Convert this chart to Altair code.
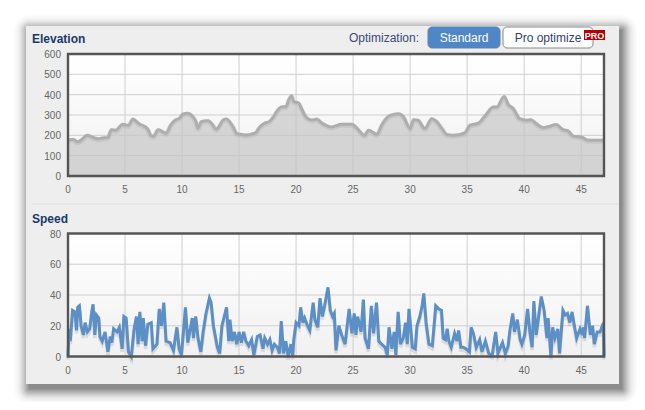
import altair as alt
import pandas as pd

elev_km = [0,0.3,0.5,0.8,1.1,1.7,2.2,2.6,3,3.5,3.8,4.2,4.8,5.1,5.3,5.7,6,6.3,6.7,7,7.3,7.5,7.9,8.3,8.6,9,9.4,9.8,10.1,10.5,10.9,11.2,11.4,11.7,12.3,12.6,13,13.2,13.6,13.9,14.2,14.5,14.8,15.1,15.5,15.9,16.2,16.5,16.8,17.2,17.7,18,18.4,18.8,19.1,19.4,19.6,19.8,20.2,20.5,20.8,21.1,21.5,21.8,22.26,23.1,24,24.9,25.3,26,26.35,27.1,27.5,28.25,29,29.4,30,30.3,30.7,31.3,31.9,32.35,32.8,33.2,33.8,34.8,35.25,36,36.6,37.3,37.6,38.25,38.6,39.05,39.6,40.2,40.6,41.05,41.65,42.25,42.8,43.4,43.85,44.3,45,45.6,47]
elev_val = [175,180,180,168,175,200,190,183,187,190,228,225,255,250,250,280,268,255,245,230,198,195,228,218,210,250,275,285,305,308,295,270,235,268,272,258,230,240,275,280,265,240,208,205,202,203,208,215,240,258,270,290,325,340,340,380,395,365,360,330,295,280,275,280,260,241,254,254,238,200,225,205,250,298,306,293,233,277,274,233,282,266,233,205,200,212,250,260,298,339,339,391,352,331,282,274,277,258,238,245,253,228,222,196,192,176,176]

speed_km = [0,.1,.2,.4,.6,.75,.85,1.0,1.15,1.35,1.5,1.7,1.9,2.1,2.2,2.35,2.5,2.7,2.8,3.0,3.25,3.5,3.7,3.85,4.0,4.3,4.5,4.75,4.9,5.1,5.3,5.55,5.8,6.0,6.15,6.3,6.5,6.6,6.8,7.0,7.3,7.45,7.8,8.0,8.2,8.4,8.6,8.95,9.25,9.55,9.75,9.95,10.3,10.5,10.7,10.9,11.0,11.2,11.4,11.65,11.85,12.1,12.4,12.55,12.75,12.9,13.1,13.3,13.5,13.7,13.9,14.1,14.2,14.4,14.6,14.8,15,15.2,15.4,15.6,15.85,16.1,16.3,16.6,16.85,17.1,17.25,17.5,17.7,17.9,18.1,18.35,18.55,18.7,18.9,19.1,19.3,19.55,19.7,19.8,20,20.25,20.4,20.6,20.75,21,21.2,21.5,21.65,21.9,22.1,22.3,22.5,22.8,23,23.2,23.35,23.5,23.75,24,24.3,24.45,24.65,24.9,25.1,25.25,25.4,25.7,25.9,26.05,26.35,26.6,26.8,27.05,27.25,27.5,27.8,28,28.15,28.4,28.6,28.75,28.95,29.15,29.4,29.6,29.75,29.9,30.2,30.45,30.6,30.85,31.05,31.2,31.4,31.65,31.95,32.25,32.5,32.75,32.9,33.1,33.25,33.4,33.6,33.9,34.1,34.25,34.45,34.65,34.9,35.2,35.35,35.55,35.8,36.1,36.3,36.6,36.9,37.2,37.5,37.7,38.1,38.35,38.6,38.75,39,39.15,39.4,39.65,39.8,40.05,40.3,40.5,40.7,40.85,41.05,41.3,41.5,41.75,42,42.1,42.35,42.5,42.7,42.95,43.1,43.4,43.6,43.8,44,44.2,44.4,44.6,44.9,45.1,45.2,45.3,45.55,45.8,46,46.15,46.4,46.65,46.85,46.95,47]
speed_val = [0,18,10,30,29,17,32,33,20,14,22,16,18,30,34,14,27,25,13,10,16,3,13,9,18,16,19,5,26,25,3,0,18,26,8,29,10,25,7,21,22,5,8,31,20,35,10,9,4,19,5,1,32,9,17,25,12,26,12,3,16,28,38,35,20,14,6,2,20,26,32,10,24,10,16,8,16,9,16,10,7,11,1,13,14,5,12,8,11,4,8,6,2,23,2,10,0,8,0,11,22,20,32,22,25,20,17,35,24,19,38,26,33,45,30,26,28,4,20,14,8,18,31,15,28,14,26,16,37,12,5,33,15,35,10,8,6,1,19,5,16,1,29,8,12,22,8,31,6,5,20,26,33,41,22,8,7,33,31,30,12,11,18,10,6,15,10,17,6,6,5,3,19,15,6,11,3,10,2,1,16,2,9,2,7,17,28,16,24,11,8,14,31,16,6,36,14,28,39,30,12,25,0,19,12,18,2,30,27,28,22,29,20,12,18,14,19,12,33,14,20,8,16,16,20,18,0]

x_ticks = [0,5,10,15,20,25,30,35,40,45]
elev_ticks = [0,100,200,300,400,500,600]
speed_ticks = [0,20,40,60,80]

W, H = 629, 394
XR = [60, 596]
Y1 = [168, 46]
Y2 = [348.5, 225.5]
FONT = "Liberation Sans"

elev = pd.DataFrame({"km": elev_km, "v": elev_val})
speed = pd.DataFrame({"km": speed_km, "v": speed_val})

def rect(x, x2, y, y2, **kw):
    return alt.Chart().mark_rect(**kw).encode(
        x=alt.value(x), x2=alt.value(x2), y=alt.value(y), y2=alt.value(y2))

def text(s, x, y, **kw):
    kw.setdefault("font", FONT)
    return alt.Chart().mark_text(text=s, **kw).encode(x=alt.value(x), y=alt.value(y))

def xs():
    return alt.Scale(domain=[0, 47], range=XR, nice=False)

def ys(dom, yr, shift=0):
    return alt.Scale(domain=dom, range=[yr[0] + shift, yr[1] + shift], nice=False, zero=False)

def grads():
    return alt.LinearGradient(gradient="linear", x1=0, x2=0, y1=0, y2=1, stops=[
        alt.GradientStop(color="#ffffff", offset=0),
        alt.GradientStop(color="#f1f1f1", offset=1)])

def panel(dom, yr, xt, yt, series):
    bg = rect(XR[0], XR[1], yr[1], yr[0], fill=grads())
    xdf = pd.DataFrame({"t": xt})
    ydf = pd.DataFrame({"t": yt})
    vg = alt.Chart(xdf).mark_rule(color="#cfcfcf", strokeWidth=1).encode(
        x=alt.X("t:Q", scale=xs(), axis=None),
        y=alt.value(yr[1]), y2=alt.value(yr[0]))
    hg = alt.Chart(ydf).mark_rule(color="#cfcfcf", strokeWidth=1).encode(
        y=alt.Y("t:Q", scale=ys(dom, yr), axis=None),
        x=alt.value(XR[0]), x2=alt.value(XR[1]))
    xl = alt.Chart(xdf).mark_text(font=FONT, fontSize=10, color="#666666", baseline="middle", dy=1).encode(
        x=alt.X("t:Q", scale=xs(), axis=None),
        y=alt.value(yr[0] + 13), text=alt.Text("t:Q", format="d"))
    yl = alt.Chart(ydf).mark_text(font=FONT, fontSize=10, color="#666666", align="right", baseline="middle", dy=1).encode(
        y=alt.Y("t:Q", scale=ys(dom, yr), axis=None),
        x=alt.value(XR[0] - 7), text=alt.Text("t:Q", format="d"))
    frame = rect(XR[0], XR[1], yr[1], yr[0], fill="transparent", stroke="#555555", strokeWidth=2.4)
    return [bg, vg, hg] + series + [frame, xl, yl]

def line(df, dom, yr, shift=0, **kw):
    return alt.Chart(df).mark_line(**kw).encode(
        x=alt.X("km:Q", scale=xs(), axis=None),
        y=alt.Y("v:Q", scale=ys(dom, yr, shift), axis=None))

elev_area = alt.Chart(elev).mark_area(color="#c4c4c4", opacity=0.68, interpolate="monotone").encode(
    x=alt.X("km:Q", scale=xs(), axis=None),
    y=alt.Y("v:Q", scale=ys([0, 600], Y1), axis=None))

elev_series = [
    elev_area,
    line(elev, [0, 600], Y1, 1, color="#999999", strokeWidth=5, opacity=0.22, interpolate="monotone"),
    line(elev, [0, 600], Y1, color="#aeaeae", strokeWidth=3, interpolate="monotone"),
]
speed_series = [
    line(speed, [0, 80], Y2, 3, color="#777777", strokeWidth=3.5, opacity=0.2),
    line(speed, [0, 80], Y2, color="#5b8fc5", strokeWidth=3),
]

# card shadow: soft falloff, outermost first
shadow_op = [0.004, 0.006, 0.008, 0.01, 0.013, 0.016, 0.02, 0.025, 0.03, 0.035, 0.04, 0.046, 0.052, 0.058, 0.062, 0.066, 0.07]
shadow = []
for i, op in enumerate(shadow_op):
    d = 16 - i
    shadow.append(alt.Chart().mark_rect(color="#000000", opacity=op, cornerRadius=max(d, 1)).encode(
        x=alt.value(18 + 3 - d), x2=alt.value(611 + 3 + d),
        y=alt.value(18 + 4 - d), y2=alt.value(376 + 5 + d)))

chrome = [
    rect(18, 611, 18, 376, fill="#eeeeee"),
    rect(24, 611, 195.5, 196.5, fill="#dddddd"),
    text("Elevation", 24, 31, align="left", fontSize=12, fontWeight="bold", color="#1a3a6b"),
    text("Speed", 24, 211, align="left", fontSize=12, fontWeight="bold", color="#1a3a6b"),
    text("Optimization:", 411, 30, align="right", fontSize=12, color="#3a4a7a"),
    rect(420, 492, 19, 40, fill="#4f86c6", stroke="#5a82b0", cornerRadius=4),
    text("Standard", 456, 30, fontSize=12, color="#ffffff"),
    rect(495, 585, 19, 40, fill="#ffffff", stroke="#888888", cornerRadius=4),
    text("Pro optimize", 540, 30, fontSize=12, color="#2f3f70"),
    rect(576, 22, 22, 32, fill="#b80000") if False else rect(576, 597, 22, 32, fill="#b80000"),
    text("PRO", 586.5, 27.5, fontSize=9, fontWeight="bold", color="#ffffff"),
]

layers = (shadow + chrome
          + panel([0, 600], Y1, x_ticks, elev_ticks, elev_series)
          + panel([0, 80], Y2, x_ticks, speed_ticks, speed_series))

chart = alt.layer(*layers).resolve_scale(x="independent", y="independent").properties(
    width=W, height=H, padding=0, autosize=alt.AutoSizeParams(type="none"), background="#ffffff"
).configure_view(stroke=None)

chart.save("out.html", embed_options={"renderer": "svg", "actions": False})
